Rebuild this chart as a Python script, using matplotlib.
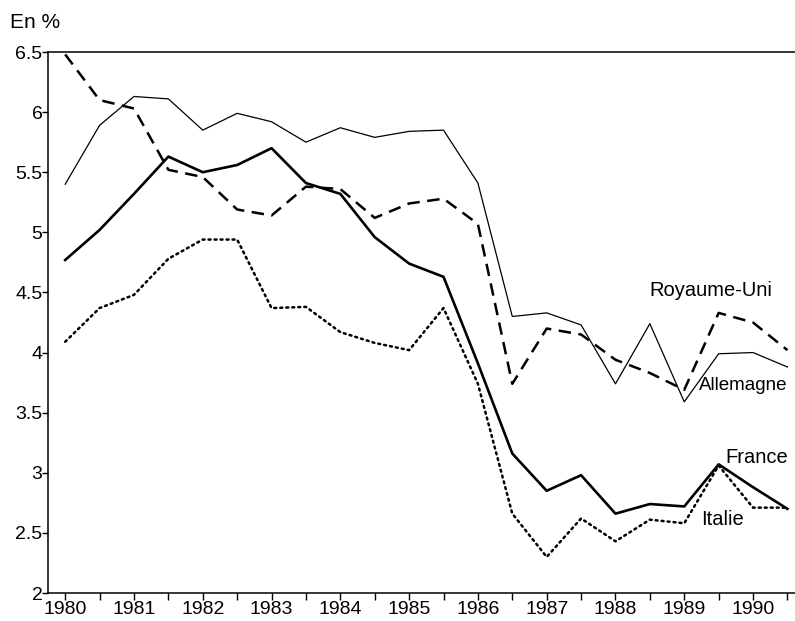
import numpy as np
import matplotlib
matplotlib.use("Agg")
import matplotlib.pyplot as plt

plt.rcParams['font.family'] = ['Liberation Sans', 'DejaVu Sans']

# Données semestrielles 1980 - 1990.5
annees = np.arange(1980, 1991, 0.5)

allemagne = [5.40, 5.89, 6.13, 6.11, 5.85, 5.99, 5.92, 5.75, 5.87, 5.79, 5.84,
             5.85, 5.41, 4.30, 4.33, 4.23, 3.74, 4.24, 3.59, 3.99, 4.00, 3.88]
royaume_uni = [6.48, 6.10, 6.03, 5.52, 5.46, 5.19, 5.14, 5.38, 5.36, 5.12, 5.24,
               5.28, 5.07, 3.74, 4.20, 4.15, 3.94, 3.83, 3.69, 4.33, 4.25, 4.02]
france = [4.77, 5.02, 5.32, 5.63, 5.50, 5.56, 5.70, 5.41, 5.32, 4.96, 4.74,
          4.63, 3.91, 3.16, 2.85, 2.98, 2.66, 2.74, 2.72, 3.07, 2.88, 2.70]
italie = [4.09, 4.37, 4.48, 4.78, 4.94, 4.94, 4.37, 4.38, 4.17, 4.08, 4.02,
          4.37, 3.74, 2.66, 2.30, 2.62, 2.43, 2.61, 2.58, 3.06, 2.71, 2.71]

fig = plt.figure(figsize=(7.95, 6.21), dpi=100)
ax = fig.add_axes([48 / 795, 28 / 621, 1 - 48 / 795, 541 / 621])

ax.plot(annees, allemagne, color='black', linewidth=0.9)
ax.plot(annees, royaume_uni, color='black', linewidth=1.8, linestyle=(0, (5, 3)))
ax.plot(annees, france, color='black', linewidth=1.9)
ax.plot(annees, italie, color='black', linewidth=1.8, linestyle=(0, (0.8, 1.6)),
        dash_capstyle='round')

# étiquettes des séries
ax.text(1988.5, 4.52, 'Royaume-Uni', fontsize=14.5, va='center', ha='left')
ax.text(1989.22, 3.73, 'Allemagne', fontsize=13.5, va='center', ha='left')
ax.text(1989.6, 3.13, 'France', fontsize=14.5, va='center', ha='left')
ax.text(1989.25, 2.61, 'Italie', fontsize=14.5, va='center', ha='left')

ax.set_xlim(1979.75, 1990.61)
ax.set_ylim(2, 6.5)
ax.set_xticks(range(1980, 1991))
ax.set_xticks(np.arange(1980.5, 1991, 1), minor=True)
ax.set_yticks(np.arange(2, 6.51, 0.5))
ax.set_yticklabels([f'{v:g}' for v in np.arange(2, 6.51, 0.5)])
ax.tick_params(axis='both', which='both', direction='out', length=5, width=1,
               labelsize=14, pad=1)
ax.tick_params(axis='y', length=4, pad=0)

ax.spines['right'].set_visible(False)
for s in ['left', 'bottom', 'top']:
    ax.spines[s].set_linewidth(1.1)

fig.text(10 / 795, 1 - 22 / 621, 'En %', fontsize=15, va='center', ha='left')

fig.savefig('out.png', dpi=100)
